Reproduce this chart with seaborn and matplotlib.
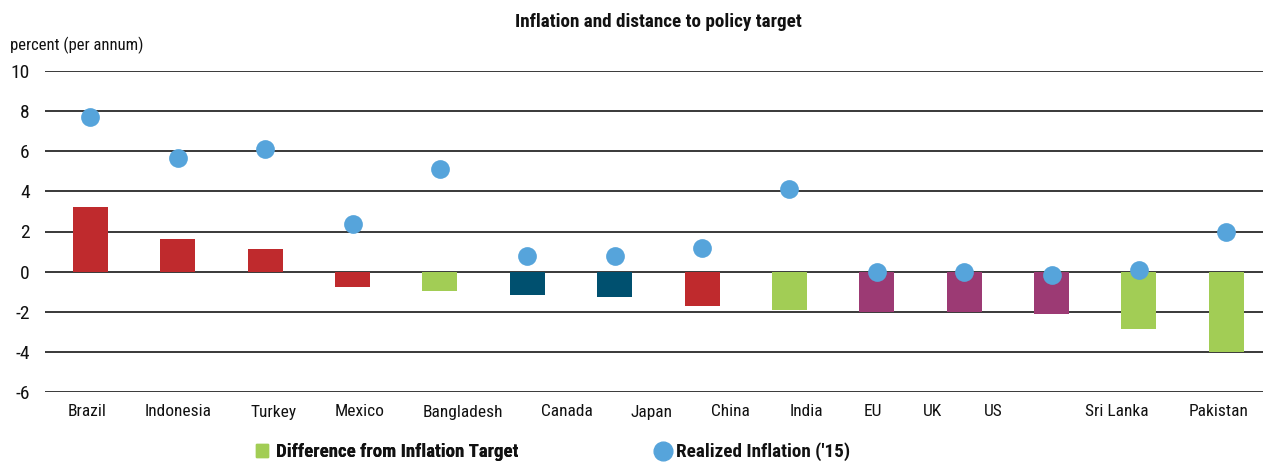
import seaborn as sns
import matplotlib.pyplot as plt
import matplotlib.lines as mlines
import matplotlib.patches as mpatches
import pandas as pd
import numpy as np

# Chart data
countries = ['Brazil', 'Indonesia', 'Turkey', 'Mexico', 'Bangladesh', 'Canada', 'Japan',
             'China', 'India', 'EU', 'UK', 'US', 'Sri Lanka', 'Pakistan']
diff_from_target = [3.24, 1.64, 1.15, -0.78, -0.98, -1.18, -1.28,
                    -1.73, -1.93, -2.03, -2.03, -2.10, -2.88, -4.00]
realized_inflation = [7.71, 5.68, 6.10, 2.38, 5.13, 0.76, 0.76,
                      1.16, 4.10, -0.03, -0.03, -0.17, 0.10, 1.98]
bar_groups = ['above', 'above', 'above', 'above', 'below', 'advanced', 'advanced',
              'above', 'below', 'euro', 'euro', 'euro', 'below', 'below']
y_ticks = [-6, -4, -2, 0, 2, 4, 6, 8, 10]

# styling (kept apart from the data)
group_colors = {'above': '#BF2A2D', 'below': '#A2CD55', 'advanced': '#00506F', 'euro': '#9C3A74'}
dot_color = '#56A4DB'
# the source places its category labels slightly off the bar centres
label_pos = [-0.04, 1.0, 2.09, 3.08, 4.26, 5.45, 6.42, 7.33, 8.20, 8.96, 9.64, 10.33, 11.75, 12.91]


def main():
    sns.set_theme(style="white")
    plt.rcParams['font.family'] = ['Roboto Condensed', 'Open Sans Condensed', 'Roboto', 'DejaVu Sans']
    plt.rcParams['text.color'] = '#111111'
    plt.rcParams['xtick.color'] = '#111111'
    plt.rcParams['ytick.color'] = '#111111'

    df = pd.DataFrame({'country': countries, 'diff': diff_from_target,
                       'realized': realized_inflation, 'group': bar_groups})

    fig = plt.figure(figsize=(12.63, 4.63), dpi=100)
    ax = fig.add_axes([45 / 1263, 71 / 463, 1 - 45 / 1263, 321 / 463])

    sns.barplot(data=df, x='country', y='diff', hue='country', order=countries,
                palette=[group_colors[g] for g in bar_groups], width=0.4,
                saturation=1, legend=False, linewidth=0, ax=ax, zorder=2)
    sns.stripplot(data=df, x='country', y='realized', order=countries, jitter=False,
                  color=dot_color, size=13.5, linewidth=0, ax=ax, zorder=3)

    ax.set_ylim(-6, 10)
    ax.set_xlim(-0.52, 13.42)
    ax.set_yticks(y_ticks)
    ax.set_yticklabels([str(v) for v in y_ticks], fontsize=14)
    for v in y_ticks:
        ax.axhline(v, color='#2a2a2a', lw=1.3, zorder=1)
    ax.set_xticks(label_pos)
    ax.set_xticklabels(countries, fontsize=12.5)
    ax.tick_params(axis='both', length=0)
    ax.tick_params(axis='x', pad=9)
    ax.tick_params(axis='y', pad=11)
    ax.set_xlabel('')
    ax.set_ylabel('')
    for s in ax.spines.values():
        s.set_visible(False)

    fig.text(658 / 1263, 1 - 22 / 463, 'Inflation and distance to policy target',
             ha='center', va='center', fontsize=13.8, fontweight='bold')
    fig.text(10 / 1263, 1 - 45 / 463, 'percent (per annum)', ha='left', va='center',
             fontsize=12)

    h_bar = mpatches.Patch(color=group_colors['below'], label='Difference from Inflation Target')
    h_dot = mlines.Line2D([], [], color=dot_color, marker='o', linestyle='none',
                          markersize=13.5, label="Realized Inflation ('15)")
    leg1 = fig.legend(handles=[h_bar], loc='center left', bbox_to_anchor=(256 / 1263, 1 - 452 / 463),
                      frameon=False, prop={'weight': 'bold', 'size': 13.6},
                      handlelength=0.65, handleheight=0.65, handletextpad=0.4,
                      borderaxespad=0, borderpad=0)
    leg2 = fig.legend(handles=[h_dot], loc='center left', bbox_to_anchor=(653 / 1263, 1 - 452 / 463),
                      frameon=False, prop={'weight': 'bold', 'size': 13.8},
                      handlelength=1.0, handletextpad=0.2,
                      borderaxespad=0, borderpad=0)
    fig.add_artist(leg1)

    plt.savefig('out.png', dpi=100)


if __name__ == "__main__":
    main()
